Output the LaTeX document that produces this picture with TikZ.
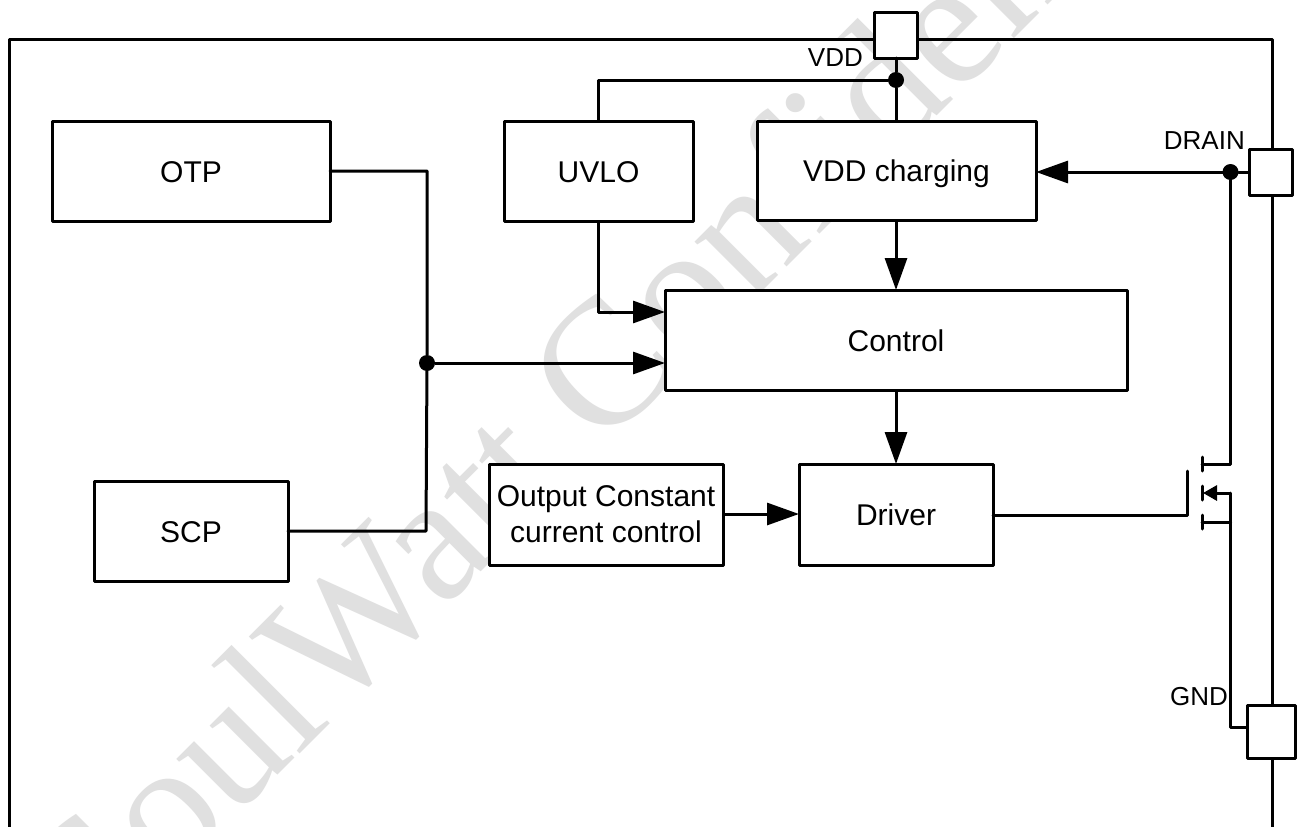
\documentclass[tikz,border=0pt]{standalone}
\usepackage{fontspec}
\setmainfont{Liberation Sans}
\newfontfamily\wmfont{Liberation Serif}
\usetikzlibrary{arrows.meta,calc}
\definecolor{wm}{gray}{0.88}
\tikzset{
  x=1pt,y=-1pt,
  wire/.style={draw=black,line width=3pt,line cap=round,line join=round},
  blockbase/.style={draw=black,fill=white,line width=3pt,line join=round,inner sep=0pt,outer sep=0pt,align=center,font=\fontsize{30}{36}\selectfont,anchor=north west},
  blockbox/.style={blockbase,text height=22pt,text depth=0pt},
  padbox/.style={draw=black,fill=white,line width=3pt,line join=round,inner sep=0pt,outer sep=0pt,anchor=north west},
  dotn/.style={circle,fill=black,inner sep=0pt,outer sep=0pt,minimum size=16pt},
  plabel/.style={inner sep=0pt,font=\fontsize{26}{30}\selectfont},
  arr/.style={wire,line cap=butt,-{Triangle[length=32pt,width=22pt]}},
  wmark/.style={text=wm,font=\fontsize{180}{180}\wmfont,rotate=45,inner sep=0pt}
}
\begin{document}
\begin{tikzpicture}
\useasboundingbox (0,0) rectangle (1299,827);
\fill[white] (0,0) rectangle (1299,827);
\begin{scope}
\clip (0,0) rectangle (1299,827);
\node[wmark] (wm) at (625,341) {SoulWatt Confidential};
\end{scope}
% outer frame
\coordinate (fbl) at (9,827);
\coordinate (fbr) at (1272,827);
\coordinate (ftl) at (9,39);
\coordinate (ftr) at (1272,39);
\draw[wire,line cap=butt] (fbl) -- (ftl) -- (ftr) -- (fbr);
% blocks
\node[blockbox,minimum width=278pt,minimum height=100pt] (otp) at (52,121) {OTP};
\node[blockbox,minimum width=194pt,minimum height=100pt] (scp) at (94,481) {SCP};
\node[blockbox,minimum width=189pt,minimum height=100pt] (uvlo) at (504,121) {UVLO};
\node[blockbox,minimum width=279pt,minimum height=99pt] (chg) at (757,121) {VDD charging};
\node[blockbox,minimum width=462pt,minimum height=100pt] (ctl) at (665,290) {Control};
\node[blockbox,minimum width=194pt,minimum height=101pt] (drv) at (799,464) {Driver};
\node[blockbase,minimum width=234pt,minimum height=101pt] (occ) at (489,464) {Output Constant\\current control};
% pads
\node[padbox,minimum width=43pt,minimum height=46pt] (vdd) at (874.5,12) {};
\node[padbox,minimum width=43pt,minimum height=46pt] (drain) at (1249,149) {};
\node[padbox,minimum width=48pt,minimum height=53pt] (gnd) at (1247,705) {};
\node[plabel,anchor=east] (lv) at (863,58) {VDD};
\node[plabel,anchor=east] (ld) at (1245,141) {DRAIN};
\node[plabel,anchor=east] (lg) at (1228,697) {GND};
% junctions
\node[dotn] (jv) at (896,80) {};
\node[dotn] (jd) at (1230.5,172) {};
\node[dotn] (jc) at (427,363) {};
% points on the connectors
\coordinate (uvt) at (598,80);
\coordinate (uvb) at (598,312);
\coordinate (otr) at (427,171);
\coordinate (scr) at (426,531);
% connectors
\draw[wire] (vdd.south -| jv) -- (jv) -- (jv |- chg.north);
\draw[wire] (jv) -- (uvt) -- (uvt |- uvlo.north);
\draw[arr] (jd) -- (chg.east |- jd);
\draw[wire] (jd) -- (drain.west |- jd);
\draw[arr] (jv |- chg.south) -- (jv |- ctl.north);
\draw[arr] (jv |- ctl.south) -- (jv |- drv.north);
\draw[arr] (uvb |- uvlo.south) -- (uvb) -- (ctl.west |- uvb);
\draw[arr] (jc) -- (ctl.west |- jc);
\draw[wire] (otp.east |- otr) -- (otr) -- (jc) -- (scr) -- (scp.east |- scr);
\draw[arr] (occ.east |- 0,514) -- (drv.west |- 0,514);
% transistor
\coordinate (gt) at (1187,471);
\coordinate (gb) at (1187,515);
\coordinate (dt) at (1202,464);
\coordinate (st) at (1203,493);
\coordinate (bt) at (1202,522);
\coordinate (dr) at (1230.5,464);
\coordinate (sr) at (1230.5,493);
\coordinate (br) at (1230.5,522);
\coordinate (gc) at (1230.5,727);
\coordinate (ch1a) at (1202,457);
\coordinate (ch1b) at (1202,471);
\coordinate (ch2a) at (1202,486);
\coordinate (ch2b) at (1202,500);
\coordinate (ch3a) at (1202,515);
\coordinate (ch3b) at (1202,529);
\draw[wire] (drv.east |- gb) -- (gb) -- (gt);
\draw[wire] (ch1a) -- (ch1b);
\draw[wire] (ch2a) -- (ch2b);
\draw[wire] (ch3a) -- (ch3b);
\draw[wire] (dt) -- (dr) -- (jd);
\draw[wire] (bt) -- (br);
\draw[wire,line cap=butt,-{Triangle[length=14pt,width=15pt]}] (sr) -- (st);
\draw[wire] (sr) -- (gc) -- (gnd.west |- gc);
\end{tikzpicture}
\end{document}
